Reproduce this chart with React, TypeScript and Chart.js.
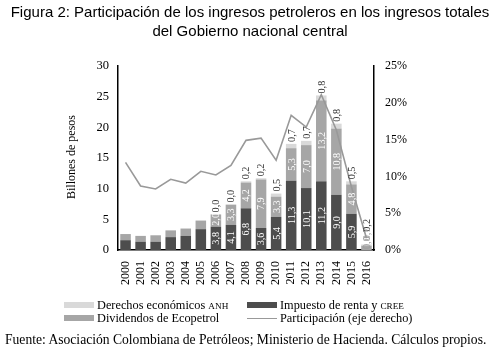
import React, { useEffect, useRef } from 'react';
import { Chart, registerables } from 'chart.js';

Chart.register(...registerables);

const years = ['2000', '2001', '2002', '2003', '2004', '2005', '2006', '2007', '2008', '2009', '2010', '2011', '2012', '2013', '2014', '2015', '2016'];
const impuesto = [1.6, 1.35, 1.35, 2.1, 2.3, 3.4, 3.8, 4.1, 6.8, 3.6, 5.4, 11.3, 10.1, 11.2, 9.0, 5.9, 0.0];
const dividendos = [1.0, 0.95, 1.05, 1.1, 1.2, 1.4, 2.0, 3.3, 4.2, 7.9, 3.3, 5.3, 7.0, 13.2, 10.8, 4.8, 0.7];
const derechos = [0, 0, 0, 0, 0, 0, 0.0, 0.0, 0.2, 0.2, 0.5, 0.7, 0.7, 0.8, 0.8, 0.5, 0.2];
const participacion = [11.9, 8.7, 8.3, 9.6, 9.1, 10.7, 10.2, 11.5, 14.9, 15.2, 12.2, 18.3, 16.7, 21.1, 16.3, 8.6, 1.6];
const firstLabeled = 6;
const leftMax = 30;
const rightMax = 25;
const tickStep = 5;

const SERIF = '"Liberation Serif", "Times New Roman", serif';
const SANS = '"Liberation Sans", Arial, sans-serif';

const fmt = (v: number) => v.toFixed(1).replace('.', ',');

const barLabels = {
  id: 'barLabels',
  afterDatasetsDraw(chart: any) {
    const ctx = chart.ctx;
    const SX = 0.92;
    ctx.save();
    ctx.font = '11px ' + SERIF;
    ctx.textAlign = 'center';
    ctx.textBaseline = 'middle';
    const series = [impuesto, dividendos, derechos];
    for (let i = firstLabeled; i < years.length; i++) {
      let prevTop = Infinity;
      for (let d = 0; d < 3; d++) {
        const el = chart.getDatasetMeta(d).data[i];
        const { x, y, base } = el.getProps(['x', 'y', 'base'], true);
        const text = fmt(series[d][i]);
        const w = ctx.measureText(text).width * SX;
        let c: number;
        let color: string;
        if (d < 2) {
          c = (y + base) / 2;
          c = Math.min(c, base - w / 2 - 1);
          color = Math.abs(base - y) < w * 0.5 ? '#9a9a9a' : '#ffffff';
        } else {
          c = y - 2 - w / 2;
          color = '#333333';
        }
        if (c + w / 2 > prevTop + 4) c = prevTop + 4 - w / 2;
        prevTop = c - w / 2;
        ctx.save();
        ctx.translate(x, c);
        ctx.rotate(-Math.PI / 2);
        ctx.scale(SX, 1);
        ctx.fillStyle = color;
        ctx.fillText(text, 0, 0.5);
        ctx.restore();
      }
    }
    ctx.restore();
  },
};

const yTitle = {
  id: 'yTitle',
  afterDraw(chart: any) {
    const ctx = chart.ctx;
    ctx.save();
    ctx.font = '12px ' + SERIF;
    ctx.fillStyle = '#000';
    ctx.textAlign = 'center';
    ctx.textBaseline = 'middle';
    ctx.translate(72, 157);
    ctx.rotate(-Math.PI / 2);
    ctx.fillText('Billones de pesos', 0, 0);
    ctx.restore();
  },
};

function ChartCanvas() {
  const ref = useRef<HTMLCanvasElement>(null);
  useEffect(() => {
    if (!ref.current) return;
    const chart = new Chart(ref.current, {
      type: 'bar',
      data: {
        labels: years,
        datasets: [
          { type: 'bar', label: 'Impuesto de renta y CREE', data: impuesto, backgroundColor: '#4d4d4d', stack: 's', yAxisID: 'y', order: 2 },
          { type: 'bar', label: 'Dividendos de Ecopetrol', data: dividendos, backgroundColor: '#a6a6a6', stack: 's', yAxisID: 'y', order: 2 },
          { type: 'bar', label: 'Derechos económicos ANH', data: derechos, backgroundColor: '#d9d9d9', stack: 's', yAxisID: 'y', order: 2 },
          { type: 'line', label: 'Participación (eje derecho)', data: participacion, borderColor: '#999999', borderWidth: 1.6, pointRadius: 0, tension: 0, yAxisID: 'y1', order: 1 },
        ] as any,
      },
      options: {
        animation: false,
        responsive: false,
        maintainAspectRatio: false,
        layout: { padding: { top: 66, bottom: 68, left: 0, right: 0 } },
        datasets: { bar: { barPercentage: 0.7, categoryPercentage: 1 } } as any,
        plugins: { legend: { display: false }, title: { display: false }, tooltip: { enabled: false } },
        scales: {
          x: {
            stacked: true,
            grid: { display: false },
            border: { display: true, color: '#000', width: 1.5 },
            ticks: { color: '#000', font: { family: SERIF, size: 12 }, minRotation: 90, maxRotation: 90, autoSkip: false, padding: 3 },
            afterFit: (s: any) => { s.height = 45; },
          },
          y: {
            stacked: true,
            position: 'left',
            min: 0,
            max: leftMax,
            grid: { display: false, drawTicks: false },
            border: { display: true, color: '#000', width: 1.5 },
            ticks: { stepSize: tickStep, color: '#000', font: { family: SERIF, size: 12.5 }, padding: 9 },
            afterFit: (s: any) => { s.width = 118; },
          },
          y1: {
            position: 'right',
            min: 0,
            max: rightMax,
            grid: { display: false, drawTicks: false },
            border: { display: true, color: '#000', width: 1.5 },
            ticks: { stepSize: tickStep, color: '#000', font: { family: SERIF, size: 12 }, padding: 11, callback: (v: any) => v + '%' },
            afterFit: (s: any) => { s.width = 126; },
          },
        },
      } as any,
      plugins: [barLabels, yTitle],
    });
    return () => chart.destroy();
  }, []);
  return <canvas ref={ref} width={500} height={363} style={{ position: 'absolute', left: 0, top: 0, width: 500, height: 363 }} />;
}

export default function App() {
  const txt: React.CSSProperties = { position: 'absolute', fontFamily: SERIF, fontSize: 12.3, lineHeight: '16px', color: '#000', whiteSpace: 'nowrap' };
  return (
    <div style={{ position: 'fixed', left: 0, top: 0, width: 500, height: 363, background: '#fff', overflow: 'hidden' }}>
      <ChartCanvas />
      <div style={{ position: 'absolute', left: 0, top: 2, width: 500, textAlign: 'center', fontFamily: SANS, fontSize: 15, lineHeight: '19px', color: '#000' }}>
        Figura 2: Participación de los ingresos petroleros en los ingresos totales<br />del Gobierno nacional central
      </div>
      <div style={{ position: 'absolute', left: 64, top: 302, width: 30, height: 6, background: '#d9d9d9' }} />
      <div style={{ ...txt, left: 97, top: 297 }}>Derechos económicos <span style={{ fontSize: '0.75em' }}>ANH</span></div>
      <div style={{ position: 'absolute', left: 247, top: 302, width: 30, height: 6, background: '#4d4d4d' }} />
      <div style={{ ...txt, left: 280, top: 297 }}>Impuesto de renta y <span style={{ fontSize: '0.75em' }}>CREE</span></div>
      <div style={{ position: 'absolute', left: 64, top: 315, width: 30, height: 6, background: '#a6a6a6' }} />
      <div style={{ ...txt, left: 97, top: 310 }}>Dividendos de Ecopetrol</div>
      <div style={{ position: 'absolute', left: 247, top: 318, width: 30, height: 1, background: '#999999' }} />
      <div style={{ ...txt, left: 280, top: 310 }}>Participación (eje derecho)</div>
      <div style={{ ...txt, left: 5, top: 332, fontSize: 13.6 }}>Fuente: Asociación Colombiana de Petróleos; Ministerio de Hacienda. Cálculos propios.</div>
    </div>
  );
}
